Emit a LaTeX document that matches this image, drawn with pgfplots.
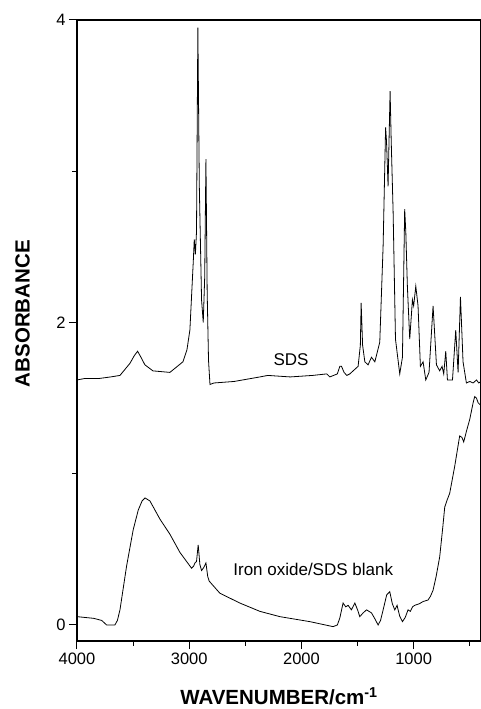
\documentclass[border=0pt]{standalone}
\usepackage{fontspec}
\setmainfont{Liberation Sans}
\usepackage{pgfplots}
\pgfplotsset{compat=1.18}
\begin{document}
\begin{tikzpicture}
\useasboundingbox (-77pt,-68pt) rectangle (403.2pt,641pt);
\begin{axis}[
  at={(0,0)}, anchor=south west,
  scale only axis,
  width=404pt, height=621pt,
  x dir=reverse,
  xmin=400, xmax=4000,
  ymin=-0.106, ymax=4,
  clip=false,
  xtick={1000,2000,3000,4000},
  ytick={0,2,4},
  minor xtick={},
  minor ytick={},
  xtick pos=bottom,
  ytick pos=left,
  tick align=outside,
  major tick length=8pt,
  every tick/.style={draw=none},
  axis line style={line width=1.6pt},
  /pgf/number format/assume math mode=true,
  /pgf/number format/1000 sep={},
  ticklabel style={font=\fontsize{16.5}{19}\selectfont},
  xlabel={\textbf{WAVENUMBER/cm\textsuperscript{-1}}},
  ylabel={\textbf{ABSORBANCE}},
  xlabel style={font=\fontsize{20.5}{24}\selectfont, at={(axis description cs:0.5,-0.089)}, anchor=center},
  ylabel style={font=\fontsize{20.5}{24}\selectfont, at={(axis description cs:-0.135,0.527)}, anchor=center, rotate=0},
]
% tick marks as small rules
\pgfplotsinvokeforeach{1000,2000,3000,4000}{
  \node[inner sep=0pt, anchor=north] at (axis cs:#1,-0.106) {\rule{1pt}{8pt}};}
\pgfplotsinvokeforeach{500,1500,2500,3500}{
  \node[inner sep=0pt, anchor=north] at (axis cs:#1,-0.106) {\rule{1pt}{4.5pt}};}
\pgfplotsinvokeforeach{0,2,4}{
  \node[inner sep=0pt, anchor=east] at (axis cs:4000,#1) {\rule[-0.5pt]{8pt}{1pt}};}
\pgfplotsinvokeforeach{1,3}{
  \node[inner sep=0pt, anchor=east] at (axis cs:4000,#1) {\rule[-0.5pt]{4.5pt}{1pt}};}
% SDS
\addplot[black, line width=0.8pt] coordinates {
(4000,1.62) (3929,1.63) (3800,1.63) (3700,1.64) (3617,1.65) (3528,1.73)
(3490,1.78) (3460,1.81) (3430,1.77) (3395,1.72) (3323,1.68) (3172,1.67)
(3056,1.74) (3020,1.82) (2994,1.95) (2964,2.40) (2955,2.55) (2945,2.45)
(2935,2.6) (2923,3.95) (2910,2.9) (2890,2.15) (2875,2.0) (2862,2.3)
(2851,3.08) (2840,2.2) (2828,1.75) (2815,1.59) (2780,1.60) (2600,1.61)
(2370,1.64) (2300,1.65) (2100,1.64) (1900,1.65) (1774,1.66) (1747,1.64)
(1680,1.66) (1658,1.71) (1643,1.71) (1620,1.67) (1596,1.65) (1569,1.66)
(1495,1.71) (1475,1.85) (1468,2.13) (1455,1.85) (1435,1.74) (1406,1.72)
(1376,1.77) (1346,1.74) (1302,1.87) (1272,2.51) (1250,3.29) (1242,3.2)
(1228,2.90) (1210,3.53) (1200,3.2) (1183,2.73) (1162,1.89) (1124,1.66)
(1100,1.77) (1080,2.75) (1070,2.6) (1056,2.24) (1035,1.89) (1011,2.15)
(1000,2.11) (981,2.24) (961,2.11) (940,1.71) (916,1.74) (892,1.62)
(863,1.67) (827,2.11) (797,1.72) (768,1.68) (747,1.71) (732,1.66)
(714,1.81) (699,1.62) (654,1.62) (625,1.95) (604,1.67) (583,2.17)
(560,1.74) (530,1.60) (500,1.61) (470,1.60) (440,1.62) (420,1.60) (400,1.61)
};
% Iron oxide / SDS blank
\addplot[black, line width=0.8pt] coordinates {
(4000,0.055) (3852,0.044) (3780,0.03) (3736,0.0) (3662,0.0) (3640,0.03)
(3617,0.10) (3558,0.39) (3499,0.63) (3454,0.76) (3420,0.82) (3394,0.84)
(3350,0.82) (3261,0.70) (3172,0.60) (3083,0.48) (2979,0.375) (2960,0.39)
(2949,0.41) (2935,0.42) (2920,0.53) (2905,0.40) (2890,0.36) (2870,0.38)
(2851,0.41) (2835,0.32) (2822,0.29) (2727,0.21) (2549,0.145) (2370,0.09)
(2192,0.055) (1925,0.022) (1718,-0.011) (1680,0.0) (1658,0.046) (1629,0.145)
(1605,0.12) (1584,0.13) (1555,0.10) (1524,0.145) (1500,0.10) (1480,0.055)
(1450,0.08) (1420,0.10) (1376,0.08) (1345,0.04) (1317,0.0) (1295,0.03)
(1272,0.10) (1240,0.20) (1213,0.22) (1190,0.14) (1168,0.10) (1148,0.13)
(1125,0.06) (1100,0.022) (1075,0.05) (1050,0.10) (1030,0.09) (1010,0.12)
(990,0.13) (950,0.14) (916,0.155) (872,0.165) (850,0.19) (827,0.23)
(800,0.32) (768,0.45) (740,0.65) (723,0.78) (700,0.83) (679,0.87)
(634,1.05) (590,1.25) (570,1.24) (554,1.21) (530,1.28) (500,1.36)
(470,1.47) (456,1.51) (440,1.50) (426,1.47) (400,1.45)
};
\node[font=\fontsize{17}{20}\selectfont] at (axis cs:2092,1.755) {SDS};
\node[font=\fontsize{17}{20}\selectfont, anchor=west] at (axis cs:2638,0.364) {Iron oxide/SDS blank};
\end{axis}
\end{tikzpicture}
\end{document}
